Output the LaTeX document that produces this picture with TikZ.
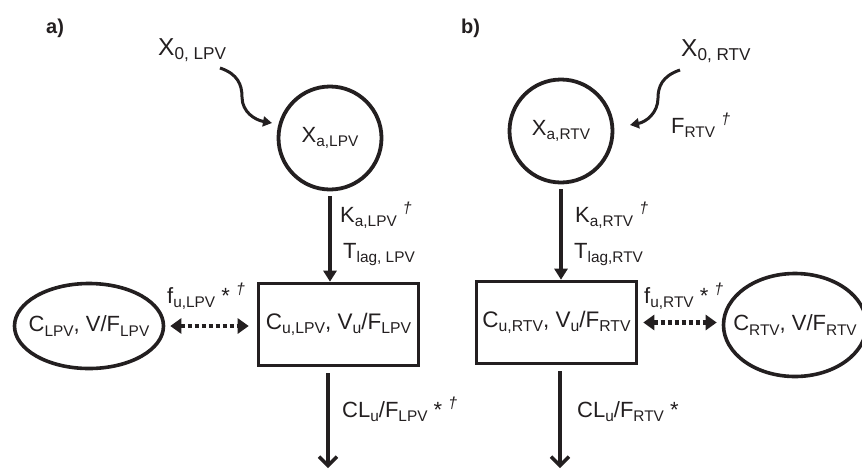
\documentclass[tikz,border=0pt]{standalone}
\usepackage{fontspec}
\setmainfont{Liberation Sans}
\usetikzlibrary{arrows.meta,shapes.geometric}
\definecolor{PkInk}{HTML}{231F20}
\newcommand{\sbs}[1]{\raisebox{-0.2em}{\scalebox{0.7}{#1}}}
\newcommand{\dagr}{\raisebox{0.4em}{\scalebox{0.72}{\textit{\textdagger}}}}
\newcommand{\fsz}[1]{\fontsize{#1}{#1}\selectfont}

\begin{document}
\begin{tikzpicture}[x=1pt, y=-1pt,
    comp/.style={circle, draw=PkInk, line width=3.8pt, minimum size=103pt, inner sep=0pt, text=PkInk, font=\fsz{22}},
    cbox/.style={rectangle, draw=PkInk, line width=3.6pt, minimum width=160pt, minimum height=82pt, inner sep=0pt, text=PkInk, font=\fsz{22.5}},
    peri/.style={ellipse, draw=PkInk, line width=3.6pt, inner sep=0pt},
    ptxt/.style={inner sep=0pt, text=PkInk, font=\fsz{22}},
    lbl/.style={anchor=base west, inner sep=0pt, text=PkInk, font=\fsz{22}},
    panel/.style={anchor=base west, inner sep=0pt, text=PkInk, font=\fsz{20}\bfseries},
    flow/.style={-{Triangle[length=11pt, width=13pt]}, line width=3.4pt, PkInk},
    elim/.style={-{Straight Barb[length=9pt, width=18pt]}, line width=3.4pt, PkInk},
    dose/.style={-{Triangle[length=9pt, width=10pt]}, line width=3pt, PkInk},
    bind/.style={{Triangle[length=11pt, width=15pt]}-{Triangle[length=11pt, width=15pt]}, line width=4.2pt, dash pattern=on 4pt off 3pt, PkInk}
]
\useasboundingbox (0,0) rectangle (862,469);

% Nodes: a) lopinavir
\node[panel] (pa) at (46,33) {a)};
\node[lbl, font=\fsz{24.5}] (x0lpv) at (158,55) {X\sbs{0, LPV}};
\node[comp] (xalpv) at (330,138) {X\sbs{a,LPV}};
\node[cbox] (clpv) at (338.5,324.5) {C\sbs{u,LPV}, V\sbs{u}/F\sbs{LPV}};
\node[peri, minimum width=149pt, minimum height=85pt] (plpv) at (89,326) {};
\node[ptxt] (plpvtxt) at (plpv) {C\sbs{LPV}, V/F\sbs{LPV}};
\node[lbl] (kalpv) at (340,222) {K\sbs{a,LPV} \dagr};
\node[lbl] (tlpv) at (343,258) {T\sbs{lag, LPV}};
\node[lbl] (fulpv) at (167,303) {f\sbs{u,LPV} * \dagr};
\node[lbl] (cllpv) at (342,417) {CL\sbs{u}/F\sbs{LPV} * \dagr};
\coordinate (d0lpv) at (220,68);
\coordinate (dalpv) at (272,123);
\coordinate (elpv) at (328,468);

% Nodes: b) ritonavir
\node[panel] (pb) at (461,33) {b)};
\node[lbl, font=\fsz{24.5}] (x0rtv) at (681,56) {X\sbs{0, RTV}};
\node[comp] (xartv) at (561,131) {X\sbs{a,RTV}};
\node[cbox] (crtv) at (556.5,322.5) {C\sbs{u,RTV}, V\sbs{u}/F\sbs{RTV}};
\node[peri, minimum width=143pt, minimum height=103pt] (prtv) at (795,325) {};
\node[ptxt] (prtvtxt) at (prtv) {C\sbs{RTV}, V/F\sbs{RTV}};
\node[lbl] (frtv) at (671,133) {F\sbs{RTV} \dagr};
\node[lbl] (kartv) at (575,222) {K\sbs{a,RTV} \dagr};
\node[lbl] (trtv) at (574,258) {T\sbs{lag,RTV}};
\node[lbl] (furtv) at (644,303) {f\sbs{u,RTV} * \dagr};
\node[lbl] (clrtv) at (577,417) {CL\sbs{u}/F\sbs{RTV} *};
\coordinate (d0rtv) at (680,70);
\coordinate (dartv) at (630,125);
\coordinate (ertv) at (560,468);

% Arrows
\draw[dose] (d0lpv) .. controls (238,74) and (242,85) .. (242,97) .. controls (242,112) and (255,120) .. (dalpv);
\draw[flow, shorten <=5pt] (xalpv.south) -- (xalpv.south |- clpv.north);
\draw[bind, shorten <=5pt, shorten >=8pt] (plpv.east) -- (plpv.east -| clpv.west);
\draw[elim, shorten <=6pt] (clpv.south -| elpv) -- (elpv);

\draw[dose] (d0rtv) .. controls (662,76) and (658,87) .. (658,98) .. controls (658,113) and (646,122) .. (dartv);
\draw[flow, shorten <=5pt] (xartv.south) -- (xartv.south |- crtv.north);
\draw[bind, shorten <=5pt, shorten >=5pt] (crtv.east) -- (crtv.east -| prtv.west);
\draw[elim, shorten <=6pt] (crtv.south -| ertv) -- (ertv);

\end{tikzpicture}
\end{document}
